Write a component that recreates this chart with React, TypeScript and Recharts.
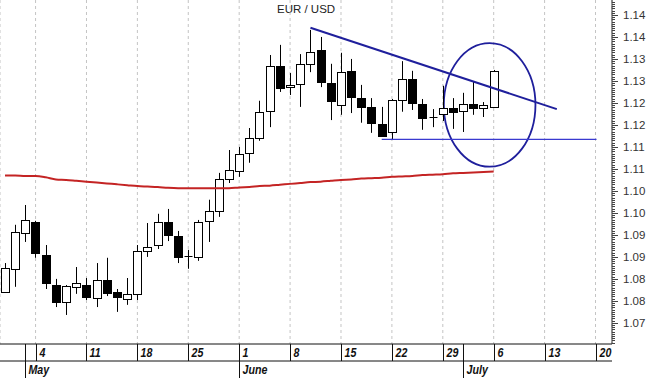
import { ComposedChart, Bar, Line, XAxis, YAxis, CartesianGrid, ReferenceLine, ReferenceArea } from 'recharts';

// trading days, index 0 = Apr 29 ... 48 = Jul 6
const opens = [
  1.0820, 1.0873, 1.0955, 1.0980, 1.0905, 1.0836, 1.0798, 1.0832, 1.0836, 1.0807,
  1.0848, 1.0820, 1.0805, 1.0816, 1.0914, 1.0927, 1.0980, 1.0948, 1.0902, 1.0900,
  1.0982, 1.1005, 1.1077, 1.1095, 1.1136, 1.1170, 1.1232, 1.1334, 1.1286, 1.1293,
  1.1339, 1.1370, 1.1295, 1.1245, 1.1323, 1.1261, 1.1241, 1.1202, 1.1184, 1.1257,
  1.1305, 1.1248, 1.1218, 1.1225, 1.1239, 1.1232, 1.1248, 1.1239, 1.1241,
];
const highs = [
  1.0886, 1.0973, 1.1018, 1.0982, 1.0927, 1.0850, 1.0836, 1.0877, 1.0852, 1.0886,
  1.0898, 1.0827, 1.0852, 1.0927, 1.0977, 1.0998, 1.1009, 1.0959, 1.0916, 1.0984,
  1.1030, 1.1091, 1.1143, 1.1150, 1.1193, 1.1255, 1.1359, 1.1382, 1.1318, 1.1361,
  1.1416, 1.1400, 1.1339, 1.1364, 1.1350, 1.1291, 1.1261, 1.1241, 1.1259, 1.1345,
  1.1323, 1.1259, 1.1236, 1.1289, 1.1261, 1.1273, 1.1298, 1.1252, 1.1325,
];
const lows = [
  1.0818, 1.0832, 1.0934, 1.0898, 1.0827, 1.0786, 1.0768, 1.0816, 1.0802, 1.0786,
  1.0811, 1.0775, 1.0791, 1.0802, 1.0900, 1.0918, 1.0936, 1.0886, 1.0873, 1.0891,
  1.0934, 1.0991, 1.1068, 1.1082, 1.1114, 1.1164, 1.1195, 1.1275, 1.1268, 1.1241,
  1.1320, 1.1286, 1.1211, 1.1223, 1.1227, 1.1205, 1.1182, 1.1173, 1.1168, 1.1230,
  1.1234, 1.1189, 1.1195, 1.1209, 1.1191, 1.1184, 1.1223, 1.1218, 1.1240,
];
const closes = [
  1.0875, 1.0957, 1.0984, 1.0909, 1.0841, 1.0798, 1.0834, 1.0841, 1.0809, 1.0848,
  1.0818, 1.0809, 1.0816, 1.0914, 1.0923, 1.0980, 1.0950, 1.0900, 1.0902, 1.0980,
  1.1005, 1.1077, 1.1098, 1.1134, 1.1170, 1.1230, 1.1334, 1.1284, 1.1291, 1.1339,
  1.1366, 1.1298, 1.1255, 1.1320, 1.1264, 1.1241, 1.1205, 1.1175, 1.1257, 1.1305,
  1.1250, 1.1216, 1.1218, 1.1239, 1.1230, 1.1248, 1.1239, 1.1245, 1.1323,
];
// moving average on the same days
const movingAvg = [
  1.1085, 1.1085, 1.1084, 1.1084, 1.1081, 1.1076, 1.1075, 1.1073, 1.1071,
  1.1069, 1.1067, 1.1065, 1.1063, 1.1061, 1.1060, 1.1059, 1.1057, 1.1056, 1.1056,
  1.1056, 1.1056, 1.1056, 1.1056, 1.1058, 1.1059, 1.1061, 1.1062, 1.1064, 1.1066,
  1.1068, 1.1070, 1.1071, 1.1073, 1.1075, 1.1076, 1.1078, 1.1079, 1.1080, 1.1082,
  1.1083, 1.1084, 1.1086, 1.1087, 1.1088, 1.1090, 1.1091, 1.1092, 1.1093, 1.1094,
];

const weekTicks = [3, 8, 13, 18, 23, 28, 33, 38, 43, 48, 53, 58];
const weekLabels = ['4', '11', '18', '25', '1', '8', '15', '22', '29', '6', '13', '20'];
const monthTicks = [2, 23, 45];
const monthLabels = ['May', 'June', 'July'];
const yTicks = [1.075, 1.08, 1.085, 1.09, 1.095, 1.1, 1.105, 1.11, 1.115, 1.12, 1.125, 1.13, 1.135, 1.14, 1.145];

// drawn annotations, in day index / price
const trendLine = { x1: 30.0, y1: 1.1421, x2: 54.2, y2: 1.1236 };
const supportLine = { x1: 37.0, x2: 58.1, y: 1.1167 };
const circleArea = { x1: 43.1, x2: 52.1, y1: 1.1105, y2: 1.1386 };

const data = opens.map((o, i) => ({
  i,
  ma: movingAvg[i],
  o,
  h: highs[i],
  l: lows[i],
  c: closes[i],
  range: [lows[i], highs[i]],
}));

// ruler marks every 0.0005
const rulerTicks: number[] = [];
for (let v = 1.0705; v < 1.1484; v += 0.0005) rulerTicks.push(Number(v.toFixed(4)));

const FONT = 'Arial, "Liberation Sans", sans-serif';

const Candle = (props: any) => {
  const { x, y, width, height, payload } = props;
  if (payload == null || payload.o == null) return null;
  const { o, h, l, c } = payload;
  const top = Math.min(y, y + height);
  const bot = Math.max(y, y + height);
  const py = (v: number) => top + ((h - v) / (h - l)) * (bot - top);
  const cx = Math.round(x + width / 2) + 0.5;
  const bTop = Math.round(py(Math.max(o, c))) + 0.5;
  const bBot = Math.round(py(Math.min(o, c))) + 0.5;
  const left = cx - 4;
  if (o === c) {
    return (
      <g>
        <line x1={cx} x2={cx} y1={top} y2={bot} stroke="#000" />
        <line x1={left} x2={left + 8} y1={bTop} y2={bTop} stroke="#000" />
      </g>
    );
  }
  return (
    <g>
      <line x1={cx} x2={cx} y1={top} y2={bot} stroke="#000" />
      <rect x={left} y={bTop} width={8} height={Math.max(1, bBot - bTop)} fill={c > o ? '#fff' : '#000'} stroke="#000" />
    </g>
  );
};

const YTick = (props: any) => {
  const { x, y, payload } = props;
  const v = payload.value;
  const major = yTicks.some(t => Math.abs(t - v) < 1e-6);
  const yy = Math.round(y) + 0.5;
  return (
    <g>
      <line x1={x} x2={x + (major ? 6 : 3)} y1={yy} y2={yy} stroke="#444" />
      {major && (
        <text x={x + 11} y={y} dy={4} fontSize={11.5} fill="#333" fontFamily={FONT}>
          {(Math.floor(v * 100 + 1e-6) / 100).toFixed(2)}
        </text>
      )}
    </g>
  );
};

// narrow bold italic labels, squeezed horizontally
const AxisText = ({ x, y, children }: any) => (
  <text
    transform={`translate(${x}, ${y}) scale(0.82, 1)`}
    fontSize={13}
    fontWeight="bold"
    fontStyle="italic"
    fill="#111"
    fontFamily={FONT}
  >
    {children}
  </text>
);

const WeekTick = (props: any) => {
  const { x, y, payload } = props;
  const xx = Math.round(x) + 0.5;
  return (
    <g>
      <line x1={xx} x2={xx} y1={y} y2={y + 17} stroke="#111" />
      <AxisText x={xx + 3} y={y + 13}>{weekLabels[weekTicks.indexOf(payload.value)]}</AxisText>
    </g>
  );
};

const MonthTick = (props: any) => {
  const { x, y, payload } = props;
  const xx = Math.round(x) + 0.5;
  return (
    <g>
      <line x1={xx} x2={xx} y1={y - 17} y2={y + 17} stroke="#111" />
      <AxisText x={xx + 3} y={y + 13}>{monthLabels[monthTicks.indexOf(payload.value)]}</AxisText>
    </g>
  );
};

const Ellipse = (props: any) => {
  const { x, y, width, height } = props;
  return (
    <ellipse cx={x + width / 2} cy={y + height / 2} rx={width / 2} ry={height / 2} fill="none" stroke="#1f1f9c" strokeWidth={1.8} />
  );
};

export default function App() {
  return (
    <div style={{ position: 'absolute', left: 0, top: 0, width: 650, height: 378, background: '#fff' }}>
      <div style={{ position: 'absolute', left: 277, top: 3, fontFamily: FONT, fontSize: 11.5, color: '#222' }}>
        EUR / USD
      </div>
      <ComposedChart width={650} height={378} data={data} margin={{ top: 0, right: 0, bottom: 0, left: 0 }}>
        <CartesianGrid horizontal={false} stroke="#c4c4c4" strokeDasharray="3 3" />
        <XAxis
          dataKey="i"
          type="number"
          domain={[-0.494, 59.62]}
          allowDataOverflow
          ticks={weekTicks}
          interval={0}
          height={17}
          tickSize={0}
          tickMargin={0}
          axisLine={{ stroke: '#111' }}
          tick={<WeekTick />}
        />
        <XAxis
          xAxisId="m"
          dataKey="i"
          type="number"
          domain={[-0.494, 59.62]}
          allowDataOverflow
          ticks={monthTicks}
          interval={0}
          height={17}
          tickSize={0}
          tickMargin={0}
          axisLine={{ stroke: '#111' }}
          tick={<MonthTick />}
        />
        <YAxis
          orientation="right"
          width={38}
          domain={[1.0702, 1.1484]}
          allowDataOverflow
          ticks={rulerTicks}
          interval={0}
          tickSize={0}
          tickMargin={0}
          axisLine={{ stroke: '#333' }}
          tick={<YTick />}
        />
        <Line dataKey="ma" type="monotone" stroke="#c42424" strokeWidth={2} dot={false} activeDot={false} isAnimationActive={false} />
        <Bar dataKey="range" barSize={8} shape={<Candle />} isAnimationActive={false} />
        <ReferenceLine
          segment={[{ x: trendLine.x1, y: trendLine.y1 }, { x: trendLine.x2, y: trendLine.y2 }]}
          stroke="#1f1f9c"
          strokeWidth={2}
        />
        <ReferenceLine
          segment={[{ x: supportLine.x1, y: supportLine.y }, { x: supportLine.x2, y: supportLine.y }]}
          stroke="#3a3ad0"
          strokeWidth={1.2}
        />
        <ReferenceArea
          x1={circleArea.x1}
          x2={circleArea.x2}
          y1={circleArea.y1}
          y2={circleArea.y2}
          shape={<Ellipse />}
        />
      </ComposedChart>
    </div>
  );
}
